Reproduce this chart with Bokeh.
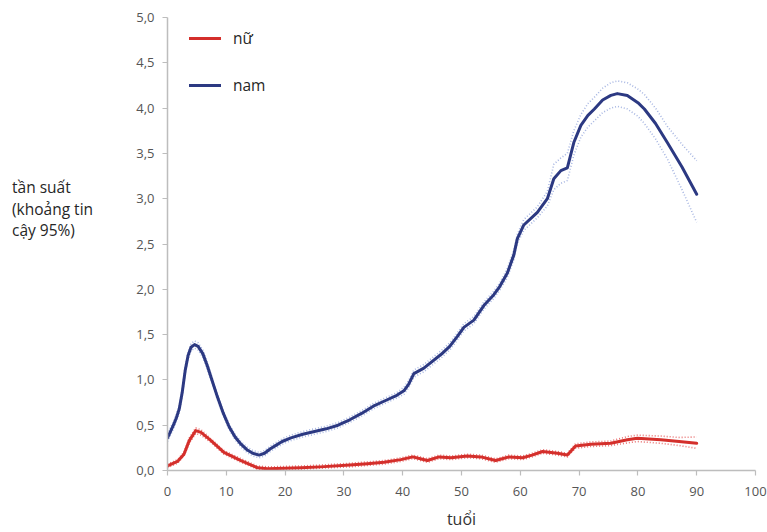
from bokeh.plotting import figure
from bokeh.layouts import row
from bokeh.models import Range1d, CustomJSTickFormatter, FixedTicker, Legend, LegendItem, Div
from bokeh.embed import file_html
from bokeh.resources import INLINE

# ---- data ----
tuoi_nam = [0, 0.5, 1, 1.5, 2, 2.5, 3, 3.5, 4.0, 4.6, 5.2, 6.0, 6.8, 7.5, 8.5, 9.5, 10.5, 11.5,
            12.5, 13.5, 14.5, 15.6, 16.5, 17.5, 18.5, 19.5, 21, 23, 25, 27, 29, 31, 33, 35, 37,
            39, 40.2, 41.0, 41.9, 43.6, 46.5, 48, 49.3, 50.4, 52.1, 53.8, 55.5, 56.5, 57.8,
            58.9, 59.5, 60.6, 62.9, 64.6, 65.7, 66.9, 68.0, 69.1, 70.3, 71.5, 72.6, 74,
            75.4, 76.5, 78.2, 80, 81.1, 83, 85, 87.5, 90]
nam = [0.36, 0.43, 0.50, 0.58, 0.68, 0.86, 1.10, 1.27, 1.36, 1.39, 1.37, 1.29, 1.15, 1.01,
       0.81, 0.63, 0.48, 0.37, 0.29, 0.23, 0.19, 0.17, 0.19, 0.24, 0.28, 0.32, 0.36, 0.40,
       0.43, 0.46, 0.50, 0.56, 0.63, 0.71, 0.77, 0.83, 0.88, 0.95, 1.07, 1.13, 1.28, 1.37,
       1.48, 1.58, 1.66, 1.82, 1.94, 2.03, 2.18, 2.38, 2.56, 2.71, 2.85, 3.00, 3.22, 3.31,
       3.34, 3.62, 3.81, 3.92, 3.99, 4.09, 4.14, 4.16, 4.14, 4.06, 3.99, 3.83, 3.62, 3.35, 3.05]
nam_tren = [0.40, 0.47, 0.54, 0.62, 0.72, 0.90, 1.14, 1.31, 1.40, 1.43, 1.41, 1.33, 1.19, 1.04,
            0.84, 0.66, 0.51, 0.40, 0.32, 0.26, 0.22, 0.20, 0.22, 0.27, 0.31, 0.35, 0.39, 0.43,
            0.46, 0.49, 0.53, 0.59, 0.66, 0.74, 0.80, 0.86, 0.92, 0.99, 1.11, 1.17, 1.32, 1.41,
            1.52, 1.62, 1.70, 1.86, 1.98, 2.07, 2.23, 2.43, 2.61, 2.77, 2.91, 3.08, 3.38, 3.45,
            3.50, 3.75, 3.93, 4.05, 4.12, 4.22, 4.28, 4.30, 4.28, 4.21, 4.15, 4.00, 3.80, 3.60, 3.42]
nam_duoi = [0.32, 0.39, 0.46, 0.54, 0.64, 0.82, 1.06, 1.23, 1.32, 1.35, 1.33, 1.25, 1.11, 0.98,
            0.78, 0.60, 0.45, 0.34, 0.26, 0.20, 0.16, 0.14, 0.16, 0.21, 0.25, 0.29, 0.33, 0.37,
            0.40, 0.43, 0.47, 0.53, 0.60, 0.68, 0.74, 0.80, 0.84, 0.91, 1.03, 1.09, 1.24, 1.33,
            1.44, 1.54, 1.62, 1.78, 1.90, 1.99, 2.13, 2.33, 2.51, 2.65, 2.79, 2.92, 3.10, 3.17,
            3.20, 3.48, 3.68, 3.79, 3.86, 3.95, 4.00, 4.02, 3.99, 3.91, 3.83, 3.66, 3.44, 3.10, 2.74]

tuoi_nu = [0, 1.7, 2.8, 3.7, 4.8, 5.7, 7.4, 9.6, 12.5, 15.3, 17, 20, 22.7, 26, 31, 34, 36.8,
           39.7, 41.7, 43, 44.2, 46.2, 48.2, 51, 53.3, 55.8, 58.1, 60.4, 62, 63.8, 66.3, 68,
           69.4, 72, 75.4, 78.2, 79.9, 83.9, 87, 90]
nu = [0.05, 0.10, 0.18, 0.33, 0.44, 0.42, 0.33, 0.20, 0.11, 0.03, 0.02, 0.025, 0.03, 0.04,
      0.06, 0.075, 0.09, 0.12, 0.15, 0.13, 0.11, 0.15, 0.14, 0.16, 0.15, 0.11, 0.15, 0.14,
      0.17, 0.21, 0.19, 0.17, 0.27, 0.29, 0.30, 0.34, 0.355, 0.34, 0.32, 0.30]
nu_tren = [0.07, 0.12, 0.20, 0.36, 0.47, 0.45, 0.35, 0.22, 0.13, 0.05, 0.04, 0.045, 0.05, 0.06,
           0.08, 0.095, 0.11, 0.14, 0.17, 0.15, 0.13, 0.17, 0.16, 0.18, 0.17, 0.13, 0.17, 0.16,
           0.19, 0.23, 0.21, 0.19, 0.295, 0.315, 0.325, 0.375, 0.39, 0.38, 0.365, 0.37]
nu_duoi = [0.03, 0.08, 0.16, 0.30, 0.41, 0.39, 0.31, 0.18, 0.09, 0.015, 0.005, 0.01, 0.015,
           0.025, 0.04, 0.055, 0.07, 0.10, 0.13, 0.11, 0.09, 0.13, 0.12, 0.14, 0.13, 0.09, 0.13,
           0.12, 0.15, 0.19, 0.17, 0.15, 0.245, 0.265, 0.275, 0.305, 0.32, 0.30, 0.275, 0.245]

y_ticks = [0, 0.5, 1.0, 1.5, 2.0, 2.5, 3.0, 3.5, 4.0, 4.5, 5.0]
x_ticks = [0, 10, 20, 30, 40, 50, 60, 70, 80, 90, 100]
y_label_lines = ["tần suất", "(khoảng tin", "cậy 95%)"]
x_label = "tuổi"
ten_nu = "nữ"
ten_nam = "nam"

# ---- styling ----
RED = "#d42f2b"
BLUE = "#2c3982"
RED_CI = "#e97474"
BLUE_CI = "#a7b6e2"
FONT = "Open Sans"
LEFT_W = 120

p = figure(width=767 - LEFT_W, height=532, output_backend="svg", toolbar_location=None,
           x_range=Range1d(0, 100), y_range=Range1d(0, 5),
           min_border_left=47, min_border_right=12, min_border_top=17, min_border_bottom=56)
p.grid.visible = False
p.outline_line_color = None
p.background_fill_color = "white"
p.border_fill_color = "white"

for ax in (p.xaxis[0], p.yaxis[0]):
    ax.axis_line_color = "#bdbdbd"
    ax.axis_line_width = 1.5
    ax.major_tick_line_color = "#bdbdbd"
    ax.major_tick_line_width = 1.2
    ax.major_tick_in = 0
    ax.major_tick_out = 5
    ax.minor_tick_line_color = None
    ax.major_label_text_font = FONT
    ax.major_label_text_font_size = "13px"
    ax.major_label_text_color = "#555555"
    ax.major_label_standoff = 8

p.xaxis.major_label_standoff = 11
p.yaxis.ticker = FixedTicker(ticks=y_ticks)
p.yaxis.formatter = CustomJSTickFormatter(code="return tick.toFixed(1).replace('.', ',');")
p.xaxis.ticker = FixedTicker(ticks=x_ticks)
p.xaxis.axis_label = x_label
p.xaxis.axis_label_text_font = FONT
p.xaxis.axis_label_text_font_size = "16px"
p.xaxis.axis_label_text_font_style = "normal"
p.xaxis.axis_label_text_color = "#333333"
p.xaxis.axis_label_standoff = 9

# confidence bands (dotted)
p.line(tuoi_nam, nam_tren, line_color=BLUE_CI, line_width=1.6, line_dash="1 2")
p.line(tuoi_nam, nam_duoi, line_color=BLUE_CI, line_width=1.6, line_dash="1 2")
p.line(tuoi_nu, nu_tren, line_color=RED_CI, line_width=1.6, line_dash="1 2")
p.line(tuoi_nu, nu_duoi, line_color=RED_CI, line_width=1.6, line_dash="1 2")

# main curves
r_nam = p.line(tuoi_nam, nam, line_color=BLUE, line_width=3, line_join="round", line_cap="round")
r_nu = p.line(tuoi_nu, nu, line_color=RED, line_width=3, line_join="round", line_cap="round")

legend = Legend(items=[LegendItem(label=ten_nu, renderers=[r_nu]),
                       LegendItem(label=ten_nam, renderers=[r_nam])],
                location=(22, 374), padding=0, margin=0, spacing=25,
                glyph_width=32, glyph_height=20, label_height=20, label_standoff=12,
                label_text_font=FONT, label_text_font_size="15.5px", label_text_color="#262626",
                border_line_color=None, background_fill_alpha=0)
p.add_layout(legend)

y_label_html = (
    '<div style="font-family:\'Open Sans\'; font-size:15.5px; line-height:21.5px; '
    'color:#262626; padding-top:177px; padding-left:12px; white-space:nowrap;">'
    + "<br>".join(y_label_lines) + "</div>"
)
y_label_div = Div(text=y_label_html, width=LEFT_W, height=532, margin=0)

layout = row(y_label_div, p, spacing=0)
open("out.html", "w").write(file_html(layout, INLINE))
